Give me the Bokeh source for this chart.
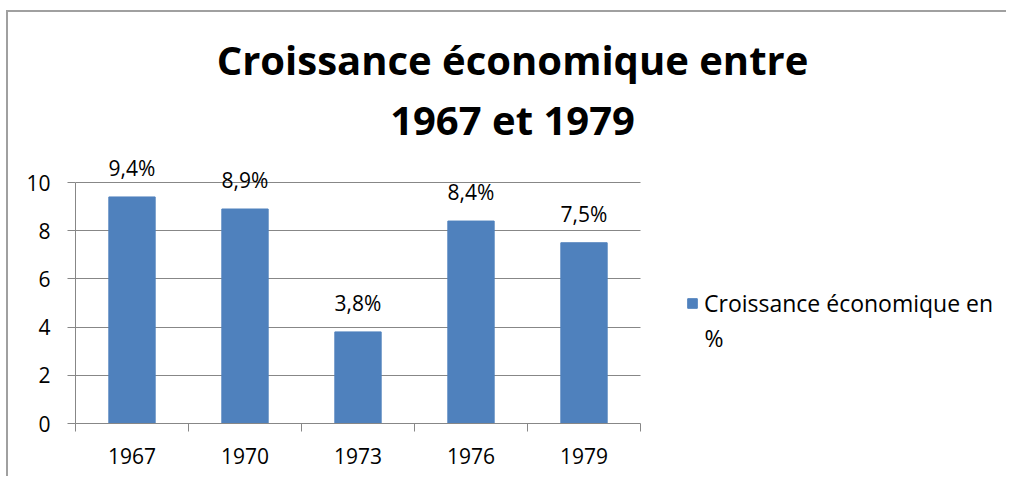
from bokeh.plotting import figure
from bokeh.models import (ColumnDataSource, FixedTicker, Legend, LegendItem,
                          LabelSet, Label, Range1d)
from bokeh.core.properties import value
from bokeh.embed import file_html
from bokeh.resources import INLINE

years = ["1967", "1970", "1973", "1976", "1979"]
growth = [9.4, 8.9, 3.8, 8.4, 7.5]
series_name = ["Croissance économique en", "%"]   # label wrapped on two lines
title_lines = ["Croissance économique entre", "1967 et 1979"]
y_ticks = [0, 2, 4, 6, 8, 10]

FONT = "Open Sans"
BAR = "#4F81BD"
GRID = "#878787"

idx = list(range(len(years)))
labels = [f"{v:.1f}%".replace(".", ",") for v in growth]
src = ColumnDataSource(dict(x=idx, top=growth, lab=labels))

W, H = 1000, 466
LEFT, BOTTOM = 67, H - 411
CAT_PX, UNIT_PX = 113.0, 24.1
x_lo, x_hi = -0.5, len(years) - 0.5

p = figure(width=W, height=H, output_backend="svg", toolbar_location=None,
           x_range=Range1d(x_lo, x_lo + (W - LEFT) / CAT_PX),
           y_range=Range1d(0, (H - BOTTOM) / UNIT_PX),
           min_border_left=LEFT, min_border_right=0,
           min_border_top=0, min_border_bottom=BOTTOM,
           styles={"margin-left": "6px", "margin-top": "10px",
                   "border-top": "2px solid #a0a0a0", "border-left": "2px solid #a0a0a0"})
p.outline_line_color = None
p.background_fill_color = "white"
p.border_fill_color = "white"

r = p.vbar(x="x", top="top", width=0.41, source=src, fill_color=BAR, line_color=BAR)

p.add_layout(LabelSet(x="x", y="top", text="lab", source=src, text_align="center",
                      text_baseline="bottom", y_offset=15, text_font=value(FONT),
                      text_font_size=value("21px"), text_color="#000000"))

# axes
p.xaxis.ticker = FixedTicker(ticks=idx, minor_ticks=[i - 0.5 for i in range(len(years) + 1)])
p.xaxis.bounds = (x_lo, x_hi)
p.xaxis.major_label_overrides = {i: y for i, y in enumerate(years)}
p.xaxis.major_tick_out = 0
p.xaxis.major_tick_in = 0
p.xaxis.minor_tick_out = 8
p.xaxis.minor_tick_in = 0
p.xaxis.minor_tick_line_color = GRID
p.xaxis.axis_line_color = GRID
p.xaxis.major_label_standoff = 16

p.yaxis.ticker = FixedTicker(ticks=y_ticks)
p.yaxis.bounds = (0, 10)
p.yaxis.major_tick_out = 8
p.yaxis.major_tick_in = 0
p.yaxis.minor_tick_line_color = None
p.yaxis.major_tick_line_color = GRID
p.yaxis.axis_line_color = GRID
p.yaxis.major_label_standoff = 17

for ax in (p.xaxis, p.yaxis):
    ax.major_label_text_font = FONT
    ax.major_label_text_font_size = "21px"
    ax.major_label_text_color = "#000000"

p.xgrid.grid_line_color = None
p.ygrid.ticker = FixedTicker(ticks=y_ticks)
p.ygrid.cross_bounds = (x_lo, x_hi)
p.ygrid.grid_line_color = GRID
p.ygrid.grid_line_width = 1

# title (two lines), positioned in screen px relative to the plot frame
for i, t in enumerate(title_lines):
    p.add_layout(Label(x=437, y=364 - 60 * i, x_units="screen", y_units="screen", text=t,
                       text_align="center", text_baseline="middle", text_font=FONT,
                       text_font_size="40px", text_font_style="bold", text_color="#000000"))

legend = Legend(items=[LegendItem(label=series_name[0], renderers=[r])],
                location=(611, 104), padding=0, margin=0, border_line_color=None,
                background_fill_alpha=0, glyph_width=12, glyph_height=12,
                label_text_font=FONT, label_text_font_size="23px", label_standoff=6,
                label_text_color="#000000")
p.add_layout(legend, "center")
# wrapped continuation of the legend label
p.add_layout(Label(x=629, y=86, x_units="screen", y_units="screen", text=series_name[1],
                   text_align="left", text_baseline="middle", text_font=FONT,
                   text_font_size="23px", text_color="#000000"))

open("out.html", "w").write(file_html(p, INLINE))
